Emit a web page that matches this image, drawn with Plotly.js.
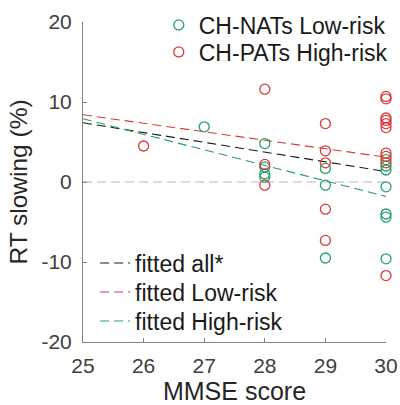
<!DOCTYPE html>
<html><head><meta charset="utf-8">
<script src="https://cdn.plot.ly/plotly-3.0.1.min.js"></script>
<style>html,body{margin:0;padding:0;background:#fff}#chart{width:400px;height:405px}</style>
</head><body><div id="chart"></div>
<script>
// Scatter data: MMSE score (x) and RT slowing % (y)
const natsX = [27, 28, 28, 28, 28, 29, 29, 29, 30, 30, 30, 30, 30, 30, 30];
const natsY = [6.9, 4.8, 1.9, 1.0, 0.6, 1.7, -0.4, -9.5, 2.8, 2.0, 1.5, -0.6, -4.0, -4.4, -9.6];
const patsX = [26, 28, 28, 28, 29, 29, 29, 29, 29, 30, 30, 30, 30, 30, 30, 30, 30, 30, 30];
const patsY = [4.5, 11.6, 2.2, -0.4, 7.3, 3.9, 2.4, -3.4, -7.3, 10.7, 10.4, 8.0, 7.7, 7.3, 6.8, 3.6, 3.2, 2.4, -11.7];
// Fitted lines (endpoints)
const fitX = [25, 30];
const fitAll = [7.4, 1.3];
const fitLow = [8.4, 3.1];
const fitHigh = [7.9, -1.8];
const zeroY = [0, 0];
const xTicks = [25, 26, 27, 28, 29, 30];
const yTicks = [-20, -10, 0, 10, 20];

const GREEN = '#23a06c', RED = '#d93a3a', BLACK = '#1a1a1a';
const FONT = 'Liberation Sans, Arial, Helvetica, sans-serif';
const dash = '9px,5px';

const traces = [
  {x: fitX, y: zeroY, mode: 'lines', line: {color: '#b8b8b8', width: 1, dash: dash}, showlegend: false, hoverinfo: 'skip'},
  {x: fitX, y: fitAll, mode: 'lines', name: 'fitted all*', line: {color: BLACK, width: 1.1, dash: dash}, legend: 'legend3'},
  {x: fitX, y: fitLow, mode: 'lines', name: 'fitted Low-risk', line: {color: RED, width: 1.1, dash: dash}, legend: 'legend4'},
  {x: fitX, y: fitHigh, mode: 'lines', name: 'fitted High-risk', line: {color: GREEN, width: 1.1, dash: dash}, legend: 'legend5'},
  {x: natsX, y: natsY, mode: 'markers', name: 'CH-NATs Low-risk', cliponaxis: false, marker: {symbol: 'circle-open', size: 10, color: GREEN, line: {width: 1.3}}, legend: 'legend'},
  {x: patsX, y: patsY, mode: 'markers', name: 'CH-PATs High-risk', cliponaxis: false, marker: {symbol: 'circle-open', size: 10, color: RED, line: {width: 1.3}}, legend: 'legend2'}
];

function leg(x, py) {
  return {
    x: x, y: (342 - py) / 320, xanchor: 'left', yanchor: 'middle',
    bgcolor: 'rgba(0,0,0,0)', borderwidth: 0,
    font: {size: 23, color: '#1a1a1a'}, itemwidth: 30
  };
}

const layout = {
  width: 400, height: 405,
  margin: {l: 83, r: 14, t: 22, b: 63, autoexpand: false},
  paper_bgcolor: '#fff', plot_bgcolor: '#fff',
  font: {family: FONT, color: '#262626', size: 21},
  showlegend: true,
  xaxis: {
    range: [25, 30], tickvals: xTicks, ticktext: xTicks.map(String),
    ticks: 'inside', ticklen: 4, tickcolor: '#808080', tickwidth: 1,
    showline: true, linecolor: '#808080', linewidth: 1, showgrid: false, zeroline: false,
    tickfont: {size: 21, color: '#404040'}, ticklabelstandoff: 5,
    title: {text: 'MMSE score', font: {size: 25, color: '#262626'}, standoff: 9}
  },
  yaxis: {
    range: [-20, 20], tickvals: yTicks, ticktext: yTicks.map(String),
    ticks: 'inside', ticklen: 4, tickcolor: '#808080', tickwidth: 1,
    showline: true, linecolor: '#808080', linewidth: 1, showgrid: false, zeroline: false,
    tickfont: {size: 21, color: '#404040'}, ticklabelstandoff: 6,
    title: {text: 'RT slowing (%)', font: {size: 24.5, color: '#262626'}, standoff: 6}
  },
  legend: leg(0.25, 25),
  legend2: leg(0.25, 52),
  legend3: leg(0.04, 263),
  legend4: leg(0.04, 292),
  legend5: leg(0.04, 321)
};

Plotly.newPlot('chart', traces, layout, {displayModeBar: false, staticPlot: true});
</script>
</body></html>
